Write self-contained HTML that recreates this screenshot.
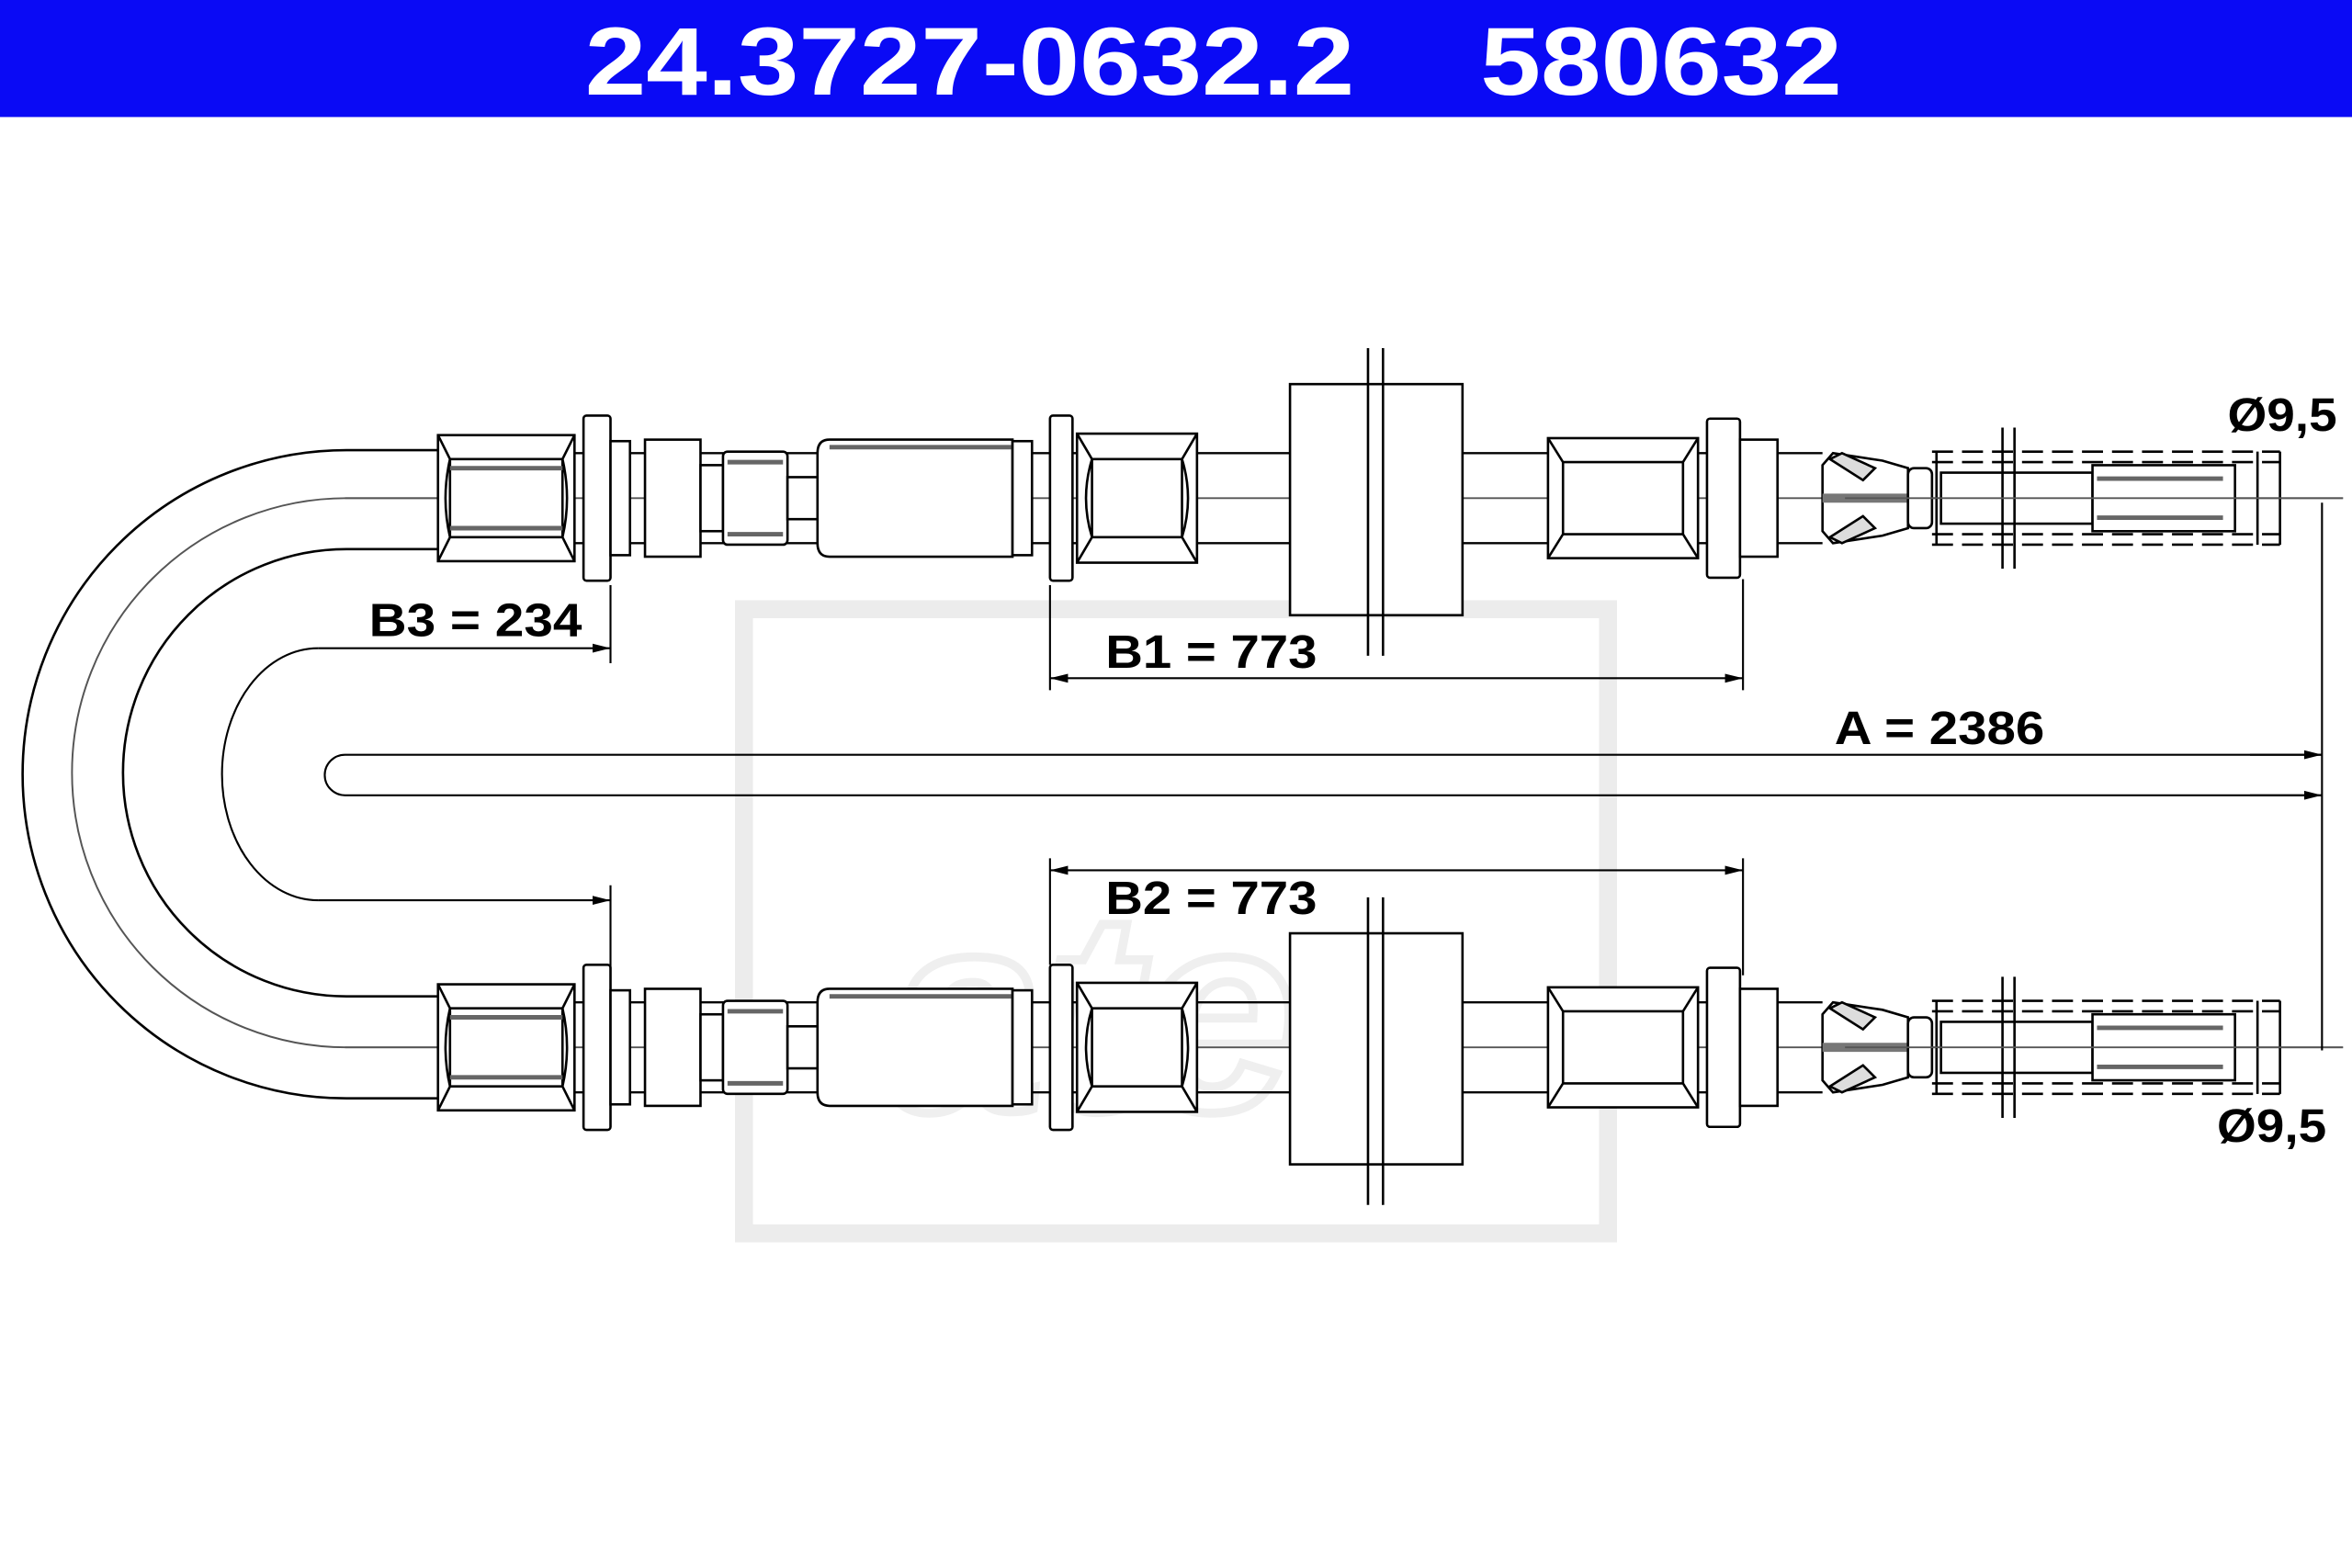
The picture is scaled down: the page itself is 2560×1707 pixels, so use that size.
<!DOCTYPE html>
<html><head><style>html,body{margin:0;padding:0;background:#fff}svg{display:block}</style></head><body>
<svg width="2560" height="1707" viewBox="0 0 1568 1045" preserveAspectRatio="none" xmlns="http://www.w3.org/2000/svg" font-family="Liberation Sans, sans-serif">
<rect x="0" y="0" width="1568" height="78" fill="#0a0af5"/>
<text x="390" y="63" fill="#fff" font-size="64" font-weight="bold" textLength="513" lengthAdjust="spacingAndGlyphs">24.3727-0632.2</text>
<text x="987" y="63" fill="#fff" font-size="64" font-weight="bold" textLength="241" lengthAdjust="spacingAndGlyphs">580632</text>
<!-- watermark -->
<rect x="496" y="406" width="576" height="416" fill="none" stroke="#ececec" stroke-width="12"/>
<text x="590" y="740" fill="none" stroke="#efefef" stroke-width="6" font-size="190" font-weight="bold" font-style="italic">ate</text>
<defs>
<marker id="ar" markerWidth="12" markerHeight="8" refX="12" refY="4" orient="auto" markerUnits="userSpaceOnUse"><path d="M0,1 L12,4 L0,7 Z" fill="#000"/></marker>
<marker id="al" markerWidth="12" markerHeight="8" refX="0" refY="4" orient="auto" markerUnits="userSpaceOnUse"><path d="M12,1 L0,4 L12,7 Z" fill="#000"/></marker>
<g id="asm" fill="#fff" stroke="#000" stroke-width="1.6">
<line x1="230" y1="0" x2="1562" y2="0" stroke="#555" stroke-width="1.2"/>
<line x1="383" y1="-30" x2="1215" y2="-30" stroke-width="1.4"/>
<line x1="383" y1="30" x2="1215" y2="30" stroke-width="1.4"/>
<rect x="292" y="-42" width="91" height="84"/>
<path d="M292,-42 L300,-26 L300,26 L292,42 M383,-42 L375,-26 L375,26 L383,42 M300,-26 L375,-26 M300,26 L375,26 M300,-26 Q294,0 300,26 M375,-26 Q381,0 375,26" fill="none"/>
<line x1="300" y1="-20" x2="375" y2="-20" stroke="#666" stroke-width="3"/>
<line x1="300" y1="20" x2="375" y2="20" stroke="#666" stroke-width="3"/>
<rect x="389" y="-55" width="18" height="110" rx="2"/>
<rect x="407" y="-38" width="13" height="76"/>
<rect x="430" y="-39" width="37" height="78"/>
<rect x="467" y="-22" width="15" height="44"/>
<rect x="482" y="-31" width="43" height="62" rx="3"/>
<line x1="485" y1="-24" x2="522" y2="-24" stroke="#666" stroke-width="3"/>
<line x1="485" y1="24" x2="522" y2="24" stroke="#666" stroke-width="3"/>
<rect x="525" y="-14" width="20" height="28"/>
<path d="M553,-39 L675,-39 L675,39 L553,39 Q545,39 545,30 L545,-30 Q545,-39 553,-39 Z"/>
<line x1="553" y1="-34" x2="675" y2="-34" stroke="#666" stroke-width="3"/>
<rect x="675" y="-38" width="13" height="76"/>
<rect x="700" y="-55" width="15" height="110" rx="2"/>
<rect x="718" y="-43" width="80" height="86"/>
<path d="M718,-43 L728,-26 L728,26 L718,43 M798,-43 L788,-26 L788,26 L798,43 M728,-26 L788,-26 M728,26 L788,26 M728,-26 Q720,0 728,26 M788,-26 Q796,0 788,26" fill="none"/>
<rect x="860" y="-76" width="115" height="154"/>
<line x1="912" y1="-100" x2="912" y2="105"/>
<line x1="922" y1="-100" x2="922" y2="105"/>
<rect x="1032" y="-40" width="100" height="80"/>
<path d="M1032,-40 L1042,-24 L1042,24 L1032,40 M1132,-40 L1122,-24 L1122,24 L1132,40 M1042,-24 L1122,-24 M1042,24 L1122,24" fill="none"/>
<rect x="1138" y="-53" width="22" height="106" rx="2"/>
<rect x="1160" y="-39" width="25" height="78"/>
<path d="M1215,-22 L1222,-30 L1255,-25 L1272,-20 L1272,20 L1255,25 L1222,30 L1215,22 Z"/>
<path d="M1220,-26 L1228,-30 L1250,-20 L1242,-12 Z M1220,26 L1228,30 L1250,20 L1242,12 Z" fill="#ddd"/>
<line x1="1215" y1="0" x2="1275" y2="0" stroke="#777" stroke-width="6"/>
<rect x="1272" y="-20" width="16" height="40" rx="4"/>
<g fill="none" stroke-dasharray="14,6">
<line x1="1288" y1="-31" x2="1520" y2="-31"/><line x1="1288" y1="-24" x2="1520" y2="-24"/>
<line x1="1288" y1="24" x2="1520" y2="24"/><line x1="1288" y1="31" x2="1520" y2="31"/>
</g>
<line x1="1291" y1="-31" x2="1291" y2="31"/>
<rect x="1294" y="-17" width="101" height="34"/>
<path d="M1395,-22 L1490,-22 L1490,22 L1395,22 Z"/>
<line x1="1398" y1="-13" x2="1482" y2="-13" stroke="#666" stroke-width="3"/>
<line x1="1398" y1="13" x2="1482" y2="13" stroke="#666" stroke-width="3"/>
<line x1="1505" y1="-31" x2="1505" y2="31"/>
<line x1="1520" y1="-31" x2="1520" y2="31"/>
<line x1="1335" y1="-47" x2="1335" y2="47"/>
<line x1="1343" y1="-47" x2="1343" y2="47"/>
<line x1="1230" y1="0" x2="1562" y2="0" stroke="#555" stroke-width="1.2"/>
</g>
</defs>
<g fill="none" stroke="#000" stroke-width="1.6">
<path d="M293,300 L231,300 A216,216 0 0 0 231,732 L293,732"/>
<path d="M293,366 L231,366 A149,149 0 0 0 231,664 L293,664"/>
<path d="M293,332 L231,332 A183,183 0 0 0 231,698 L293,698" stroke="#555" stroke-width="1.2"/>
</g>
<use href="#asm" transform="translate(0,332)"/>
<use href="#asm" transform="translate(0,698)"/>
<g fill="none" stroke="#000" stroke-width="1.3">
<path d="M212,432 A64,84 0 0 0 212,600"/>
<line x1="212" y1="432" x2="407" y2="432" marker-end="url(#ar)"/>
<line x1="212" y1="600" x2="407" y2="600" marker-end="url(#ar)"/>
<line x1="407" y1="390" x2="407" y2="442"/>
<line x1="407" y1="590" x2="407" y2="645"/>
<line x1="700" y1="452" x2="1162" y2="452" marker-start="url(#al)" marker-end="url(#ar)"/>
<line x1="700" y1="390" x2="700" y2="460"/>
<line x1="1162" y1="386" x2="1162" y2="460"/>
<line x1="700" y1="580" x2="1162" y2="580" marker-start="url(#al)" marker-end="url(#ar)"/>
<line x1="700" y1="572" x2="700" y2="643"/>
<line x1="1162" y1="572" x2="1162" y2="650"/>
<path d="M1548,503 L230,503 A13.5,13.5 0 0 0 230,530 L1548,530"/>
<line x1="1500" y1="503" x2="1548" y2="503" marker-end="url(#ar)"/>
<line x1="1500" y1="530" x2="1548" y2="530" marker-end="url(#ar)"/>
<line x1="1548" y1="335" x2="1548" y2="700"/>
</g>
<g font-weight="bold" font-size="31" fill="#000">
<text x="246" y="424" textLength="142" lengthAdjust="spacingAndGlyphs">B3 = 234</text>
<text x="737" y="445" textLength="141" lengthAdjust="spacingAndGlyphs">B1 = 773</text>
<text x="737" y="609" textLength="141" lengthAdjust="spacingAndGlyphs">B2 = 773</text>
<text x="1223" y="496" textLength="140" lengthAdjust="spacingAndGlyphs">A = 2386</text>
<text x="1485" y="287" textLength="73" lengthAdjust="spacingAndGlyphs">Ø9,5</text>
<text x="1478" y="761" textLength="73" lengthAdjust="spacingAndGlyphs">Ø9,5</text>
</g>
</svg>
</body></html>
